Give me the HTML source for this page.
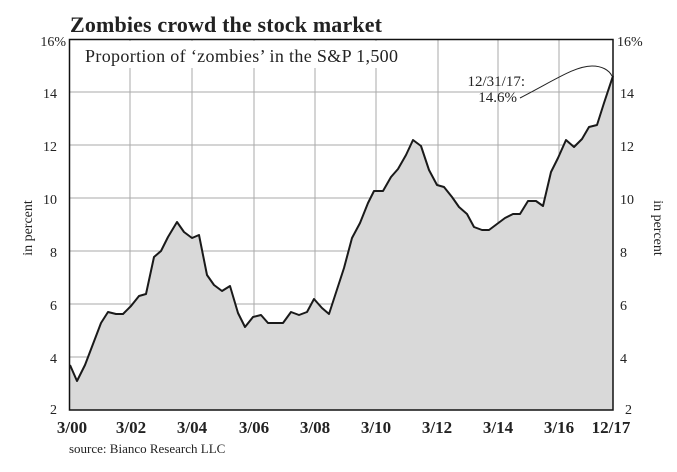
<!DOCTYPE html>
<html><head><meta charset="utf-8"><style>
html,body{margin:0;padding:0;background:#fff;}
svg{display:block;}
text{font-family:"Liberation Serif",serif;fill:#222;}
</style></head><body>
<svg width="677" height="472" viewBox="0 0 677 472">
<rect width="677" height="472" fill="#fff"/>
<g stroke="#aaa" stroke-width="1">
<line x1="70" y1="92" x2="613" y2="92"/>
<line x1="70" y1="145" x2="613" y2="145"/>
<line x1="70" y1="198" x2="613" y2="198"/>
<line x1="70" y1="251" x2="613" y2="251"/>
<line x1="70" y1="304" x2="613" y2="304"/>
<line x1="70" y1="357" x2="613" y2="357"/>
<line x1="130" y1="39" x2="130" y2="410"/>
<line x1="192" y1="39" x2="192" y2="410"/>
<line x1="254" y1="39" x2="254" y2="410"/>
<line x1="315" y1="39" x2="315" y2="410"/>
<line x1="376" y1="39" x2="376" y2="410"/>
<line x1="438" y1="39" x2="438" y2="410"/>
<line x1="498" y1="39" x2="498" y2="410"/>
<line x1="559" y1="39" x2="559" y2="410"/>
</g>
<rect x="80" y="41" width="322" height="27" fill="#fff"/>
<polygon fill="#d9d9d9" points="70,410 70,365 77,381 85,365 101,323 108,312 116,314 123,314 131,306 139,296 146,294 154,257 161,251 168,237 177,222 184,232 192,238 199,235 207,275 214,285 222,291 230,286 238,313 245,327 253,317 261,315 268,323 283,323 291,312 299,315 307,312 314,299 322,308 329,314 344,268 352,238 360,223 368,203 374,191 383,191 391,177 398,169 406,155 413,140 421,146 429,170 437,185 444,187 452,197 459,207 467,214 474,227 482,230 489,230 497,224 505,218 513,214 520,214 528,201 536,201 543,206 551,172 558,158 566,140 574,147 582,139 589,127 597,125 604,103 613,76 613,410"/>
<polyline fill="none" stroke="#1a1a1a" stroke-width="2" stroke-linejoin="round" points="70,365 77,381 85,365 101,323 108,312 116,314 123,314 131,306 139,296 146,294 154,257 161,251 168,237 177,222 184,232 192,238 199,235 207,275 214,285 222,291 230,286 238,313 245,327 253,317 261,315 268,323 283,323 291,312 299,315 307,312 314,299 322,308 329,314 344,268 352,238 360,223 368,203 374,191 383,191 391,177 398,169 406,155 413,140 421,146 429,170 437,185 444,187 452,197 459,207 467,214 474,227 482,230 489,230 497,224 505,218 513,214 520,214 528,201 536,201 543,206 551,172 558,158 566,140 574,147 582,139 589,127 597,125 604,103 613,76"/>
<rect x="69.5" y="39.5" width="543.5" height="370.5" fill="none" stroke="#111" stroke-width="1.5"/>
<path d="M520,98 C555,80 575,66 592,66 C602,66 609,70 612,76" fill="none" stroke="#222" stroke-width="1"/>
<text x="525" y="86" font-size="15" text-anchor="end">12/31/17:</text>
<text x="517" y="102" font-size="15" text-anchor="end">14.6%</text>
<text x="70" y="32" font-size="22" font-weight="bold" textLength="312">Zombies crowd the stock market</text>
<text x="85" y="62" font-size="18" textLength="313">Proportion of ‘zombies’ in the S&amp;P 1,500</text>
<g font-size="14" text-anchor="end">
<text x="66" y="46">16%</text>
<text x="57" y="98">14</text>
<text x="57" y="151">12</text>
<text x="57" y="204">10</text>
<text x="57" y="257">8</text>
<text x="57" y="310">6</text>
<text x="57" y="363">4</text>
<text x="57" y="414">2</text>
</g>
<g font-size="14" text-anchor="start">
<text x="617" y="46">16%</text>
<text x="620" y="98">14</text>
<text x="620" y="151">12</text>
<text x="620" y="204">10</text>
<text x="620" y="257">8</text>
<text x="620" y="310">6</text>
<text x="620" y="363">4</text>
<text x="625" y="414">2</text>
</g>
<text transform="translate(32,228) rotate(-90)" font-size="14" text-anchor="middle">in percent</text>
<text transform="translate(654,228) rotate(90)" font-size="14" text-anchor="middle">in percent</text>
<g font-size="17" font-weight="bold" text-anchor="middle">
<text x="72" y="433">3/00</text>
<text x="131" y="433">3/02</text>
<text x="192" y="433">3/04</text>
<text x="254" y="433">3/06</text>
<text x="315" y="433">3/08</text>
<text x="376" y="433">3/10</text>
<text x="437" y="433">3/12</text>
<text x="498" y="433">3/14</text>
<text x="559" y="433">3/16</text>
<text x="611" y="433">12/17</text>
</g>
<text x="69" y="453" font-size="13">source: Bianco Research LLC</text>
</svg>
</body></html>
